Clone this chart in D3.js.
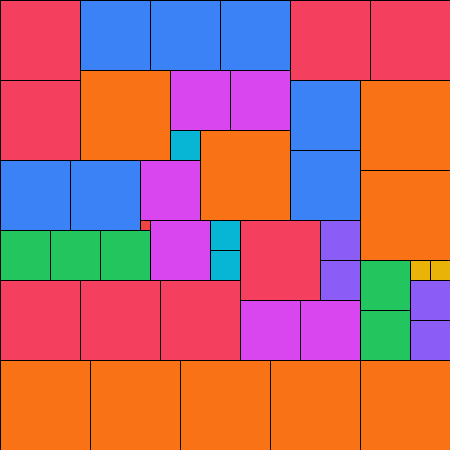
<!DOCTYPE html>
<html>
<head>
<meta charset="utf-8">
<script src="https://cdn.jsdelivr.net/npm/d3@7"></script>
<style>
  body { margin: 0; background: #fff; }
  svg { display: block; }
</style>
</head>
<body>
<div id="main"></div>
<script>
// ======================= data =======================
// category of each tile, in packing order
var categories = [
  'rose', 'blue', 'blue', 'blue', 'rose', 'rose',
  'orange', 'fuchsia', 'fuchsia', 'rose', 'blue', 'orange',
  'cyan', 'orange', 'blue', 'blue', 'blue', 'fuchsia',
  'orange', 'red', 'fuchsia', 'cyan', 'rose', 'violet',
  'green', 'green', 'green', 'cyan', 'violet', 'green',
  'yellow', 'yellow', 'rose', 'rose', 'rose', 'violet',
  'fuchsia', 'fuchsia', 'green', 'violet',
  'orange', 'orange', 'orange', 'orange', 'orange'
];
// side length of each tile (units)
var sides = [
  8, 7, 7, 7, 8, 8,
  9, 6, 6, 8, 7, 9,
  3, 9, 7, 7, 7, 6,
  9, 1, 6, 3, 8, 4,
  5, 5, 5, 3, 4, 5,
  2, 2, 8, 8, 8, 4,
  6, 6, 5, 4,
  9, 9, 9, 9, 9
];
var domainSize = 45;

var colors = {
  rose: '#f43f5e', blue: '#3b82f6', orange: '#f97316', fuchsia: '#d946ef',
  cyan: '#06b6d4', green: '#22c55e', violet: '#8b5cf6', yellow: '#eab308',
  red: '#ef4444'
};

// ======================= layout =======================
// bottom-left skyline packing: each square goes to the lowest, then leftmost spot
function pack(sides, width) {
  var sky = new Array(width).fill(0);
  return sides.map(function(s, i) {
    var best = null;
    for (var x = 0; x + s <= width; x++) {
      var y = d3.max(sky.slice(x, x + s));
      if (best === null || y < best.y) best = {x: x, y: y};
    }
    for (var k = best.x; k < best.x + s; k++) sky[k] = best.y + s;
    return {x: best.x, y: best.y, s: s, cat: categories[i]};
  });
}

var tiles = pack(sides, domainSize);

// ======================= draw =======================
var W = 450, H = 450;
var xs = d3.scaleLinear().domain([0, domainSize]).range([0, W]);
var ys = d3.scaleLinear().domain([0, domainSize]).range([0, H]);

var svg = d3.select('#main').append('svg')
  .attr('width', W).attr('height', H);

svg.selectAll('rect.tile')
  .data(tiles)
  .enter()
  .append('rect')
  .attr('class', 'tile')
  .attr('x', d => xs(d.x))
  .attr('y', d => ys(d.y))
  .attr('width', d => xs(d.x + d.s) - xs(d.x))
  .attr('height', d => ys(d.y + d.s) - ys(d.y))
  .attr('fill', d => colors[d.cat])
  .attr('stroke', '#000')
  .attr('stroke-width', 1)
  .attr('shape-rendering', 'crispEdges');
</script>
</body>
</html>
